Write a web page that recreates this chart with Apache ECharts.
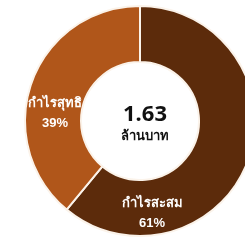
<!DOCTYPE html>
<html>
<head>
<meta charset="utf-8">
<script src="https://cdn.jsdelivr.net/npm/echarts@6/dist/echarts.min.js"></script>
<style>
  html, body { margin: 0; padding: 0; background: #fff; }
  #chart1 { width: 245px; height: 241px; }
</style>
</head>
<body>
<div id="chart1"></div>
<script>
  var names = ['กำไรสะสม', 'กำไรสุทธิ'];
  var shares = [61, 39];
  var colors = ['#5c2b0b', '#b0561a'];
  var totalText = '1.63';
  var unitText = 'ล้านบาท';

  var chart1 = echarts.init(document.getElementById('chart1'));

  // label spots (pixel) for each slice
  var labelPos = [[152, 213], [55, 113]];

  var option1 = {
    animation: false,
    title: {
      text: totalText,
      subtext: unitText,
      left: 140,
      top: 99,
      textAlign: 'center',
      itemGap: 4,
      textStyle: { fontSize: 22, fontWeight: 'bold', color: '#111', fontFamily: 'Noto Sans' },
      subtextStyle: { fontSize: 13, fontWeight: 'bold', color: '#111' }
    },
    series: [
      {
        type: 'pie',
        center: [140, 121],
        radius: [59, 115],
        startAngle: 90,
        clockwise: true,
        itemStyle: { borderColor: '#fbf3ea', borderWidth: 2 },
        label: {
          show: true,
          position: 'inside',
          color: '#fff',
          fontWeight: 'bold',
          fontSize: 13,
          lineHeight: 20,
          formatter: function (p) { return p.name + '\n' + p.value + '%'; }
        },
        labelLayout: function (p) {
          return { x: labelPos[p.dataIndex][0], y: labelPos[p.dataIndex][1], align: 'center', verticalAlign: 'middle' };
        },
        data: names.map(function (n, i) {
          return { name: n, value: shares[i], itemStyle: { color: colors[i] } };
        })
      }
    ]
  };

  chart1.setOption(option1);
</script>
</body>
</html>
